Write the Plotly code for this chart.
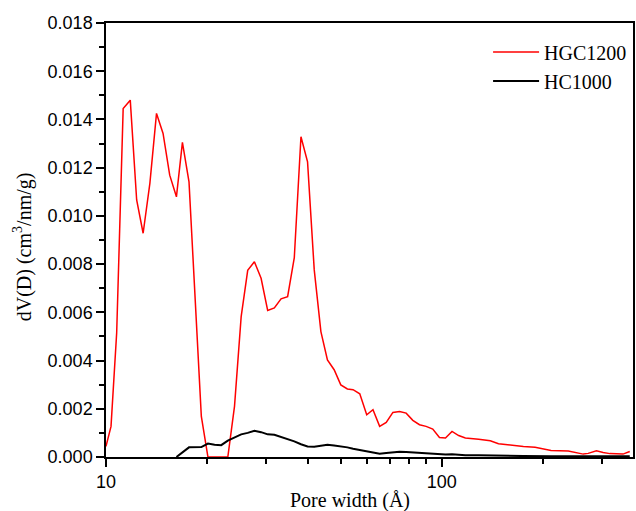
import plotly.graph_objects as go

# Pore width (Å) and dV(D) values
hgc_x = [10.0, 10.35, 10.76, 11.25, 11.81, 12.34, 12.90, 13.51, 14.14, 14.79, 15.48, 16.21,
         16.89, 17.67, 19.23, 20.12, 21.06, 22.04, 23.06, 24.14, 25.27, 26.43, 27.67, 28.97,
         30.31, 31.73, 33.22, 34.75, 36.38, 38.08, 39.84, 41.71, 43.66, 45.66, 47.81, 50.05,
         52.36, 54.44, 57.00, 59.78, 62.41, 65.33, 68.34, 71.54, 74.89, 78.35, 82.01, 85.86,
         89.83, 94.04, 98.45, 102.6, 107.3, 112.3, 117.6, 128.8, 139.5, 147.6, 161.7, 175.1,
         189.7, 200.7, 211.6, 238.2, 249.3, 263.9, 273.1, 288.9, 302.5, 316.7, 346.7, 363.1]
hgc_y = [0.00044, 0.00127, 0.00515, 0.01445, 0.0148, 0.01066, 0.00928, 0.01135, 0.01425, 0.01342,
         0.01169, 0.01079, 0.01305, 0.01141, 0.00168, 0.0, 0.0, 0.0, 0.0, 0.0021, 0.00582,
         0.00774, 0.0081, 0.00741, 0.00608, 0.00618, 0.00656, 0.00665, 0.00827, 0.01328, 0.01224,
         0.00776, 0.0052, 0.00403, 0.00362, 0.00299, 0.00282, 0.00279, 0.00262, 0.00175, 0.00196,
         0.00127, 0.00143, 0.00185, 0.00189, 0.00182, 0.00152, 0.00134, 0.00127, 0.00116, 0.00081,
         0.00079, 0.00106, 0.00089, 0.00079, 0.00074, 0.00067, 0.00055, 0.00048, 0.00044, 0.0004,
         0.00034, 0.00027, 0.00025, 0.00019, 0.00012, 0.00015, 0.00026, 0.00019, 0.00014, 0.00012,
         0.00023]

hc_x = [16.21, 16.96, 17.67, 19.23, 20.12, 21.06, 22.04, 23.06, 24.14, 25.27, 26.43, 27.67,
        28.97, 30.31, 31.73, 33.22, 34.75, 36.38, 38.08, 39.84, 41.71, 43.66, 45.66, 47.81,
        50.05, 52.36, 54.44, 57.00, 59.78, 62.41, 65.33, 68.34, 71.54, 74.89, 78.35, 82.01,
        85.86, 89.83, 94.04, 98.45, 102.6, 107.3, 112.3, 117.6, 128.8, 147.6, 175.1, 211.6,
        263.9, 316.7, 363.1]
hc_y = [0.0, 0.00023, 0.0004, 0.00041, 0.00056, 0.00051, 0.00049, 0.00068, 0.00082, 0.00094,
        0.001, 0.00109, 0.00103, 0.00094, 0.00092, 0.00084, 0.00074, 0.00065, 0.00053, 0.00044,
        0.00043, 0.00046, 0.00051, 0.00048, 0.00045, 0.0004, 0.00034, 0.00029, 0.00023, 0.0002,
        0.00014, 0.00017, 0.0002, 0.00022, 0.00021, 0.00019, 0.00017, 0.00016, 0.00013, 0.0001,
        0.0001, 0.00011, 0.00008, 0.00007, 0.00007, 0.00005, 0.00004, 0.00003, 0.00003, 0.00003,
        0.00003]

x_major = [10, 100]
x_minor = [20, 30, 40, 50, 60, 70, 80, 90, 200, 300]

fig = go.Figure()
fig.add_trace(go.Scatter(x=hgc_x, y=hgc_y, mode="lines", name="HGC1200",
                         line=dict(color="#ff0000", width=1.5)))
fig.add_trace(go.Scatter(x=hc_x, y=hc_y, mode="lines", name="HC1000",
                         line=dict(color="#000000", width=2)))

axis_font = dict(family="Liberation Sans, Arial", size=18, color="black")
fig.update_layout(
    width=636, height=511,
    margin=dict(l=106, r=1, t=23, b=54),
    paper_bgcolor="white", plot_bgcolor="white",
    showlegend=True,
    legend=dict(x=0.725, y=0.978, xanchor="left", yanchor="top",
                font=dict(family="Liberation Serif, Times New Roman", size=20, color="black"),
                bgcolor="rgba(0,0,0,0)", borderwidth=0, itemwidth=46, tracegroupgap=0),
    xaxis=dict(type="log", range=[1, 2.5697], tickmode="array", tickvals=x_major,
               ticktext=["10", "100"], ticks="outside", ticklen=8, tickwidth=1.5,
               tickcolor="black", showline=True, linecolor="black", linewidth=1.5,
               mirror=True, showgrid=False, zeroline=False, tickfont=axis_font,
               minor=dict(tickmode="array", tickvals=x_minor, ticks="outside", ticklen=5,
                          tickwidth=1.5, tickcolor="black", showgrid=False)),
    yaxis=dict(range=[0, 0.018], dtick=0.002, tick0=0, tickformat=".3f",
               ticks="outside", ticklen=8, tickwidth=1.5, tickcolor="black",
               showline=True, linecolor="black", linewidth=1.5, mirror=True,
               showgrid=False, zeroline=False, tickfont=axis_font,
               minor=dict(dtick=0.001, ticks="outside", ticklen=5, tickwidth=1.5,
                          tickcolor="black", showgrid=False)),
    annotations=[
        dict(text="Pore width (Å)", xref="paper", yref="paper", x=0.463, y=-0.1,
             xanchor="center", yanchor="middle", showarrow=False,
             font=dict(family="Liberation Serif, Times New Roman", size=20, color="black")),
        dict(text="dV(D) (cm<sup>3</sup>/nm/g)", xref="paper", yref="paper", x=-0.158, y=0.485,
             xanchor="center", yanchor="middle", textangle=-90, showarrow=False,
             font=dict(family="Liberation Serif, Times New Roman", size=20, color="black")),
    ],
)

fig.write_html("out.html")
